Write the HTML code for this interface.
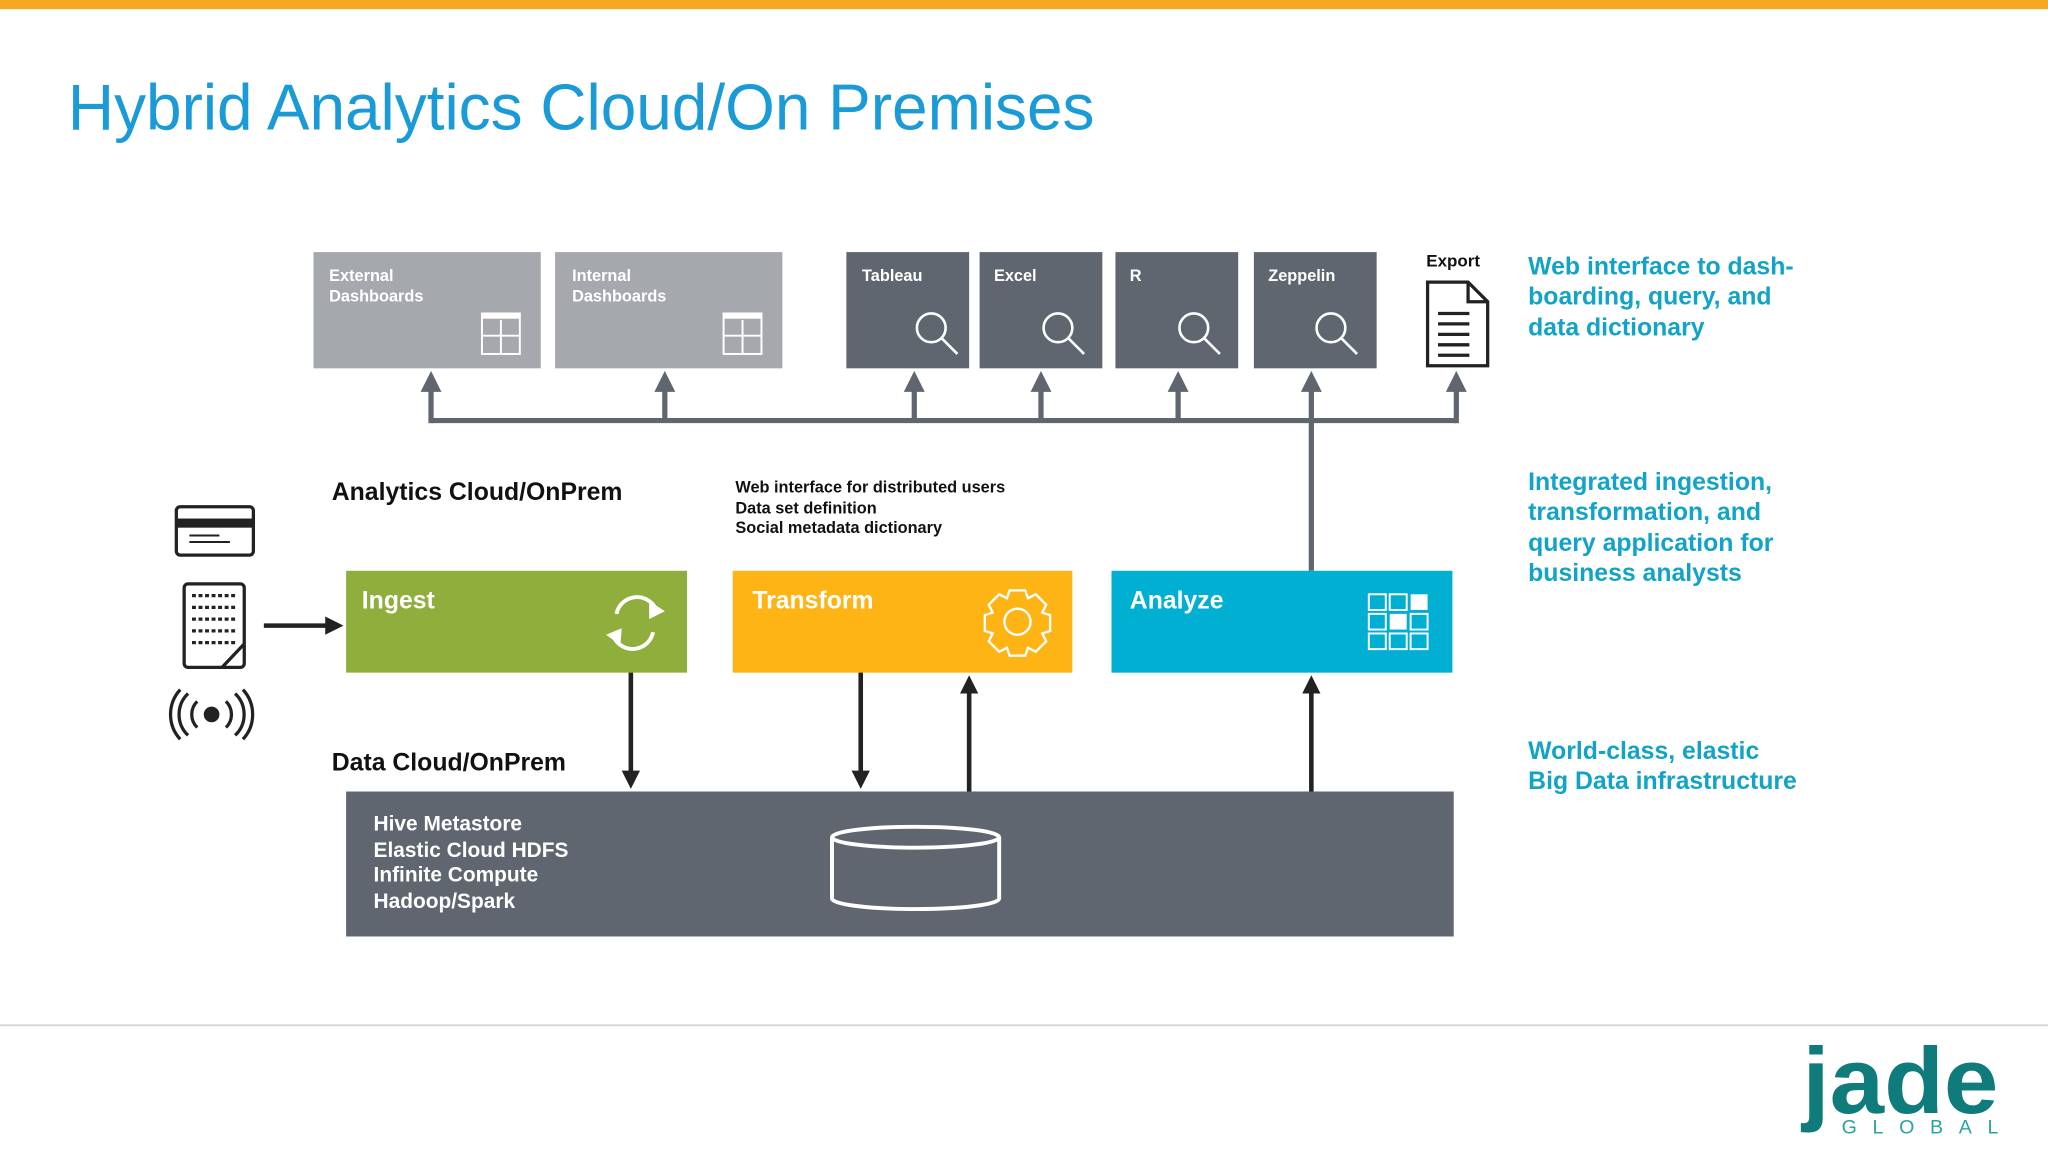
<!DOCTYPE html>
<html><head><meta charset="utf-8"><style>
html,body{margin:0;padding:0;background:#fff;width:2048px;height:1152px;overflow:hidden}
svg{display:block}
text{font-family:"Liberation Sans",sans-serif}
</style></head><body>
<svg width="2048" height="1152" viewBox="0 0 1568 882" preserveAspectRatio="none" xmlns="http://www.w3.org/2000/svg">
<defs>
<marker id="ag" markerWidth="4" markerHeight="4" refX="2" refY="2" orient="auto" markerUnits="strokeWidth"><path d="M0,0 L4,2 L0,4 z" fill="#5f6670"/></marker>
<marker id="ab" markerWidth="4" markerHeight="4" refX="2" refY="2" orient="auto" markerUnits="strokeWidth"><path d="M0,0 L4,2 L0,4 z" fill="#222"/></marker>
</defs>
<rect x="0" y="0" width="1568" height="7" fill="#f7a823"/>
<text x="52" y="99" font-size="50" fill="#1a9ad6" textLength="786" lengthAdjust="spacingAndGlyphs">Hybrid Analytics Cloud/On Premises</text>

<!-- top boxes -->
<rect x="240" y="193" width="174" height="89" fill="#a5a8ad"/>
<rect x="425" y="193" width="174" height="89" fill="#a5a8ad"/>
<g fill="#fff" font-size="12.5" font-weight="bold">
<text x="252" y="215">External</text><text x="252" y="231">Dashboards</text>
<text x="438" y="215">Internal</text><text x="438" y="231">Dashboards</text>
</g>
<g fill="none" stroke="#fff" stroke-width="1.5">
<rect x="369" y="240" width="29" height="31"/><line x1="369" y1="257" x2="398" y2="257"/><line x1="383.5" y1="245" x2="383.5" y2="271"/>
<rect x="554" y="240" width="29" height="31"/><line x1="554" y1="257" x2="583" y2="257"/><line x1="568.5" y1="245" x2="568.5" y2="271"/>
</g>
<rect x="369" y="240" width="29" height="4" fill="#fff"/><rect x="554" y="240" width="29" height="4" fill="#fff"/>

<g fill="#5f6670">
<rect x="648" y="193" width="94" height="89"/><rect x="750" y="193" width="94" height="89"/>
<rect x="854" y="193" width="94" height="89"/><rect x="960" y="193" width="94" height="89"/>
</g>
<g fill="#fff" font-size="12.5" font-weight="bold">
<text x="660" y="215">Tableau</text><text x="761" y="215">Excel</text><text x="865" y="215">R</text><text x="971" y="215">Zeppelin</text>
</g>
<g fill="none" stroke="#fff" stroke-width="2">
<circle cx="713" cy="251" r="11"/><line x1="721" y1="259" x2="733" y2="271"/>
<circle cx="810" cy="251" r="11"/><line x1="818" y1="259" x2="830" y2="271"/>
<circle cx="914" cy="251" r="11"/><line x1="922" y1="259" x2="934" y2="271"/>
<circle cx="1019" cy="251" r="11"/><line x1="1027" y1="259" x2="1039" y2="271"/>
</g>
<text x="1092" y="204" font-size="13" font-weight="bold" fill="#111">Export</text>
<g fill="none" stroke="#222" stroke-width="2.5">
<path d="M1093,216 H1124 L1139,231 V280 H1093 Z"/><path d="M1124,216 V231 H1139"/>
<line x1="1101" y1="240" x2="1125" y2="240"/><line x1="1101" y1="248" x2="1125" y2="248"/><line x1="1101" y1="256" x2="1125" y2="256"/><line x1="1101" y1="264" x2="1125" y2="264"/><line x1="1101" y1="272" x2="1125" y2="272"/>
</g>

<!-- bus -->
<g stroke="#5f6670" stroke-width="4" fill="none">
<path d="M330,322 H1115"/>
<line x1="330" y1="324" x2="330" y2="292" marker-end="url(#ag)"/>
<line x1="509" y1="322" x2="509" y2="292" marker-end="url(#ag)"/>
<line x1="700" y1="322" x2="700" y2="292" marker-end="url(#ag)"/>
<line x1="797" y1="322" x2="797" y2="292" marker-end="url(#ag)"/>
<line x1="902" y1="322" x2="902" y2="292" marker-end="url(#ag)"/>
<line x1="1004" y1="437" x2="1004" y2="292" marker-end="url(#ag)"/>
<line x1="1115" y1="324" x2="1115" y2="292" marker-end="url(#ag)"/>
</g>

<!-- right text -->
<g fill="#12a3c6" font-size="19" font-weight="bold">
<text x="1170" y="210">Web interface to dash-</text><text x="1170" y="233">boarding, query, and</text><text x="1170" y="257">data dictionary</text>
<text x="1170" y="375">Integrated ingestion,</text><text x="1170" y="398">transformation, and</text><text x="1170" y="422">query application for</text><text x="1170" y="445">business analysts</text>
<text x="1170" y="581">World-class, elastic</text><text x="1170" y="604">Big Data infrastructure</text>
</g>

<text x="254" y="383" font-size="19" font-weight="bold" fill="#111">Analytics Cloud/OnPrem</text>
<g font-size="12.5" font-weight="bold" fill="#111">
<text x="563" y="377">Web interface for distributed users</text><text x="563" y="393">Data set definition</text><text x="563" y="408">Social metadata dictionary</text>
</g>

<!-- mid boxes -->
<rect x="265" y="437" width="261" height="78" fill="#8fae3c"/>
<rect x="561" y="437" width="260" height="78" fill="#fdb414"/>
<rect x="851" y="437" width="261" height="78" fill="#00afd1"/>
<g fill="#fff" font-size="19" font-weight="bold">
<text x="277" y="466">Ingest</text><text x="576" y="466">Transform</text><text x="865" y="466">Analyze</text>
</g>
<g fill="none" stroke="#fff" stroke-width="3">
<path d="M472,470 A16,16 0 0 1 502,466"/><path d="M500,484 A16,16 0 0 1 470,488"/>
</g>
<path d="M497,460 L509,468 L497,474 Z M475,494 L464,486 L476,481 Z" fill="#fff"/>
<g fill="none" stroke="#fff" stroke-width="1.8">
<circle cx="779" cy="476" r="10"/>
<path d="M773,452 h12 l2,6 6,-3 8,8 -3,6 6,2 v12 l-6,2 3,6 -8,8 -6,-3 -2,6 h-12 l-2,-6 -6,3 -8,-8 3,-6 -6,-2 v-12 l6,-2 -3,-6 8,-8 6,3 z"/>
</g>
<g fill="none" stroke="#fff" stroke-width="1.5">
<rect x="1048" y="455" width="13" height="12"/><rect x="1064" y="455" width="13" height="12"/>
<rect x="1048" y="470" width="13" height="12"/><rect x="1080" y="470" width="13" height="12"/>
<rect x="1048" y="485" width="13" height="12"/><rect x="1064" y="485" width="13" height="12"/><rect x="1080" y="485" width="13" height="12"/>
</g>
<rect x="1080" y="455" width="13" height="12" fill="#fff"/><rect x="1064" y="470" width="13" height="12" fill="#fff"/>

<!-- arrows -->
<g stroke="#222" stroke-width="3.5" fill="none">
<line x1="202" y1="479" x2="256" y2="479" marker-end="url(#ab)"/>
<line x1="483" y1="515" x2="483" y2="597" marker-end="url(#ab)"/>
<line x1="659" y1="515" x2="659" y2="597" marker-end="url(#ab)"/>
<line x1="742" y1="606" x2="742" y2="524" marker-end="url(#ab)"/>
<line x1="1004" y1="606" x2="1004" y2="524" marker-end="url(#ab)"/>
</g>

<text x="254" y="590" font-size="19" font-weight="bold" fill="#111">Data Cloud/OnPrem</text>
<rect x="265" y="606" width="848" height="111" fill="#5f6670"/>
<g fill="#fff" font-size="16" font-weight="bold">
<text x="286" y="636">Hive Metastore</text><text x="286" y="656">Elastic Cloud HDFS</text><text x="286" y="675">Infinite Compute</text><text x="286" y="695">Hadoop/Spark</text>
</g>
<g fill="none" stroke="#fff" stroke-width="3">
<ellipse cx="701" cy="641" rx="64" ry="8"/>
<path d="M637,641 V688 A64,8 0 0 0 765,688 V641"/>
</g>

<!-- left icons -->
<g fill="none" stroke="#222" stroke-width="2.5">
<rect x="135" y="388" width="59" height="37" rx="3"/>
<rect x="141" y="447" width="46" height="64" rx="3"/>
<path d="M187,493 L170,511" />
<line x1="147" y1="456" x2="180" y2="456" stroke-dasharray="3 2"/>
<line x1="147" y1="465" x2="180" y2="465" stroke-dasharray="3 2"/>
<line x1="147" y1="474" x2="180" y2="474" stroke-dasharray="3 2"/>
<line x1="147" y1="483" x2="180" y2="483" stroke-dasharray="3 2"/>
<line x1="147" y1="492" x2="180" y2="492" stroke-dasharray="3 2"/>
<line x1="145" y1="410" x2="168" y2="410" stroke-width="1.5"/><line x1="145" y1="415" x2="176" y2="415" stroke-width="1.5"/>
<path d="M151,537 A14,14 0 0 0 151,557"/><path d="M173,537 A14,14 0 0 1 173,557"/>
<path d="M144,531 A22,22 0 0 0 144,563"/><path d="M180,531 A22,22 0 0 1 180,563"/>
<path d="M138,528 A28,28 0 0 0 138,566"/><path d="M186,528 A28,28 0 0 1 186,566"/>
</g>
<rect x="135" y="397" width="59" height="7" fill="#222"/>
<circle cx="162" cy="547" r="6" fill="#222"/>

<line x1="0" y1="785" x2="1568" y2="785" stroke="#d4d4d4" stroke-width="1.5"/>
<text x="1380" y="852" font-size="72" font-weight="bold" fill="#0f7b7b" textLength="150" lengthAdjust="spacingAndGlyphs">jade</text>
<text x="1410" y="868" font-size="15" fill="#2aa3a3" textLength="120" lengthAdjust="spacing">GLOBAL</text>
</svg>
</body></html>
